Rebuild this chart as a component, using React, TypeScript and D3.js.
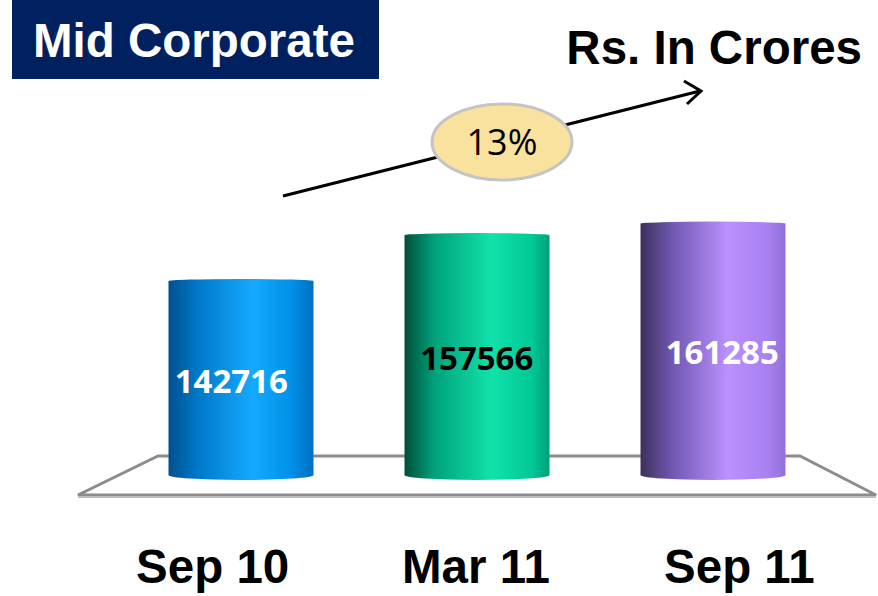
import React from "react";
import * as d3 from "d3";

const categories = ["Sep 10", "Mar 11", "Sep 11"];
const values = [142716, 157566, 161285];
const labelColors = ["#ffffff", "#000000", "#ffffff"];
const growthLabel = "13%";
const title = "Mid Corporate";
const unitLabel = "Rs. In Crores";

const gradients = [
  { id: "gBlue", stops: [["0%", "#00508e"], ["20%", "#0078c8"], ["58%", "#14aaff"], ["85%", "#0090e8"], ["100%", "#0070c0"]] },
  { id: "gGreen", stops: [["0%", "#004e3a"], ["20%", "#00a07a"], ["60%", "#12e2aa"], ["88%", "#00c896"], ["100%", "#00a078"]] },
  { id: "gPurple", stops: [["0%", "#3e2f5c"], ["22%", "#7058b0"], ["60%", "#bb90ff"], ["88%", "#a880f0"], ["100%", "#9070d8"]] },
];

export default function App() {
  const W = 878, H = 596;
  const base = 475;
  const y = d3.scaleLinear().domain([80000, 180000]).range([base, base - 309.3]);
  const x = d3.scalePoint<string>().domain(categories).range([123, 831]).padding(0.5);
  const xLab = d3.scalePoint<string>().domain(categories).range([81, 871]).padding(0.5);
  const xVal = d3.scalePoint<string>().domain(categories).range([108.5, 845]).padding(0.5);
  const bw = 145;

  return (
    <svg width={W} height={H} style={{ position: "absolute", left: 0, top: 0 }}>
      <defs>
        {gradients.map((g) => (
          <linearGradient key={g.id} id={g.id} x1="0" x2="1" y1="0" y2="0">
            {g.stops.map(([o, c]) => (
              <stop key={o} offset={o} stopColor={c} />
            ))}
          </linearGradient>
        ))}
      </defs>
      <rect width={W} height={H} fill="#ffffff" />

      {/* title box */}
      <rect x={12} y={0} width={367} height={79} fill="#002060" />
      <text x={33} y={57} fill="#ffffff" fontFamily="Liberation Sans, Arial, sans-serif" fontWeight="bold" fontSize={47.5}>
        {title}
      </text>
      <text x={862} y={64} textAnchor="end" fill="#000" fontFamily="Liberation Sans, Arial, sans-serif" fontWeight="bold" fontSize={47.5}>
        {unitLabel}
      </text>

      {/* arrow */}
      <line x1={283} y1={196} x2={700} y2={91} stroke="#000" strokeWidth={3} />
      <polyline points="684,81 701,91 687,104" fill="none" stroke="#000" strokeWidth={3} strokeLinejoin="miter" />
      <ellipse cx={502} cy={142} rx={70} ry={38} fill="#f8e29e" stroke="#c4c4c4" strokeWidth={3} />
      <text x={502} y={155} textAnchor="middle" fill="#000" fontFamily="Open Sans, sans-serif" fontSize={36}>
        {growthLabel}
      </text>

      {/* floor */}
      <polygon points="158,456 800,456 876,495 78,495" fill="#ffffff" stroke="#8c8c8c" strokeWidth={3} />
      <line x1={78} y1={497} x2={876} y2={497} stroke="#bdbdbd" strokeWidth={2} />

      {/* bars */}
      {categories.map((c, i) => {
        const cx = x(c)!;
        const top = y(values[i]);
        const x0 = cx - bw / 2;
        const fill = `url(#${gradients[i].id})`;
        return (
          <g key={c}>
            <rect x={x0} y={top} width={bw} height={base - top} fill={fill} />
            <ellipse cx={cx} cy={base} rx={bw / 2} ry={5} fill={fill} />
            <ellipse cx={cx} cy={top} rx={bw / 2} ry={2} fill={fill} />
            <text
              x={xVal(c)}
              y={(top + base) / 2 + 15}
              textAnchor="middle"
              fill={labelColors[i]}
              fontFamily="Open Sans, sans-serif"
              fontWeight="bold"
              fontSize={33}
            >
              {values[i]}
            </text>
          </g>
        );
      })}

      {categories.map((c) => (
        <text key={c} x={xLab(c)} y={583} textAnchor="middle" fill="#000" fontFamily="Liberation Sans, Arial, sans-serif" fontWeight="bold" fontSize={47.5}>
          {c}
        </text>
      ))}
    </svg>
  );
}
